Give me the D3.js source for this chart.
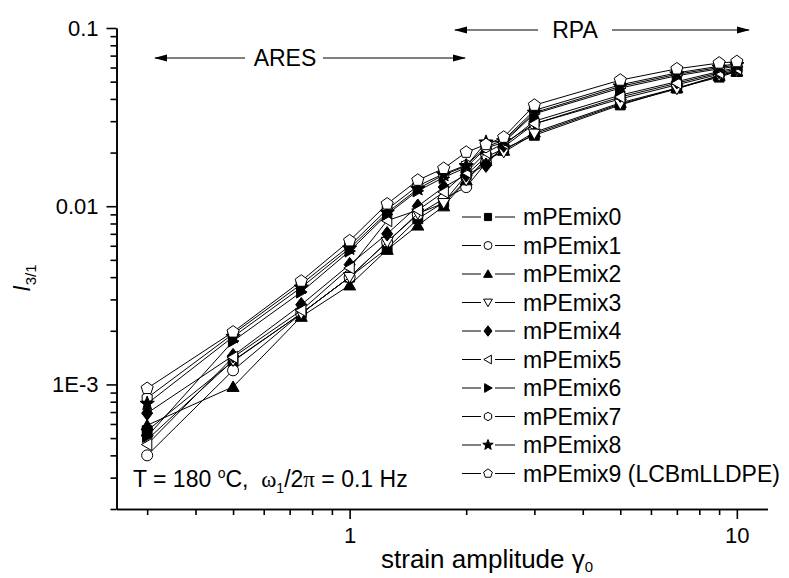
<!DOCTYPE html>
<html><head><meta charset="utf-8">
<script src="https://cdn.jsdelivr.net/npm/d3@7"></script>
<style>
body{margin:0;background:#fff}
svg{display:block}
text{font-family:"Liberation Sans",Arial,sans-serif;fill:#000;white-space:pre}
</style>
</head><body>
<svg id="c" width="789" height="578"></svg>
<script>
// ---------------- data ----------------
const strain = [0.3, 0.5, 0.75, 1, 1.25, 1.5, 1.75, 2, 2.25, 2.5, 3, 5, 7, 9, 10];
const seriesNames = ["mPEmix0","mPEmix1","mPEmix2","mPEmix3","mPEmix4","mPEmix5","mPEmix6","mPEmix7","mPEmix8","mPEmix9 (LCBmLLDPE)"];
const mix0 = [5.5e-4, 1.35e-3, 2.5e-3, 4.0e-3, 5.8e-3, 8.5e-3, 0.0105, 0.0150, 0.0189, 0.0210, 0.0250, 0.0370, 0.0460, 0.0530, 0.0570];
const mix1 = [4.0e-4, 1.20e-3, 2.5e-3, 4.0e-3, 6.3e-3, 9.0e-3, 0.0110, 0.0128, 0.0175, 0.0215, 0.0290, 0.0400, 0.0480, 0.0550, 0.0580];
const mix2 = [5.9e-4, 9.7e-4, 2.4e-3, 3.6e-3, 5.7e-3, 7.8e-3, 0.0100, 0.0140, 0.0180, 0.0205, 0.0260, 0.0380, 0.0460, 0.0540, 0.0570];
const mix3 = [4.9e-4, 1.36e-3, 2.5e-3, 4.0e-3, 6.3e-3, 9.1e-3, 0.0104, 0.0140, 0.0185, 0.0201, 0.0255, 0.0375, 0.0455, 0.0540, 0.0575];
const mix4 = [6.9e-4, 1.45e-3, 2.8e-3, 4.7e-3, 7.0e-3, 0.0100, 0.0128, 0.0150, 0.0170, 0.0220, 0.0300, 0.0420, 0.0500, 0.0570, 0.0600];
const mix5 = [4.6e-4, 1.42e-3, 2.6e-3, 4.5e-3, 8.3e-3, 9.5e-3, 0.0120, 0.0155, 0.0200, 0.0225, 0.0290, 0.0410, 0.0490, 0.0560, 0.0590];
const mix6 = [5.1e-4, 1.75e-3, 3.3e-3, 5.6e-3, 9.0e-3, 0.0122, 0.0145, 0.0165, 0.0212, 0.0228, 0.0330, 0.0460, 0.0540, 0.0590, 0.0610];
const mix7 = [8.4e-4, 1.92e-3, 3.65e-3, 6.0e-3, 9.6e-3, 0.0130, 0.0152, 0.0170, 0.0215, 0.0235, 0.0345, 0.0480, 0.0560, 0.0610, 0.0630];
const mix8 = [7.8e-4, 1.85e-3, 3.5e-3, 5.8e-3, 9.2e-3, 0.0125, 0.0150, 0.0168, 0.0228, 0.0232, 0.0335, 0.0470, 0.0550, 0.0600, 0.0620];
const mix9 = [9.5e-4, 1.97e-3, 3.8e-3, 6.4e-3, 0.0103, 0.0140, 0.0163, 0.0201, 0.0222, 0.0244, 0.0369, 0.0510, 0.0590, 0.0636, 0.0648];
const seriesValues = [mix0, mix1, mix2, mix3, mix4, mix5, mix6, mix7, mix8, mix9];
const markerTypes = ["square","circle","triUp","triDown","diamond","triLeft","triRight","hexagon","star","pentagon"];
const markerFilled = [true,false,true,false,true,false,true,false,true,false];

const xMajorTicks = [1, 10];
const xTickLabels = ["1", "10"];
const xMinorTicks = [0.3,0.4,0.5,0.6,0.7,0.8,0.9,2,3,4,5,6,7,8,9];
const yMajorTicks = [0.001, 0.01, 0.1];
const yTickLabels = ["1E-3", "0.01", "0.1"];
const yMinorTicks = [2e-4,3e-4,4e-4,5e-4,6e-4,7e-4,8e-4,9e-4,2e-3,3e-3,4e-3,5e-3,6e-3,7e-3,8e-3,9e-3,0.02,0.03,0.04,0.05,0.06,0.07,0.08,0.09];

// ---------------- layout ----------------
const svg = d3.select("#c");
const x = d3.scaleLog().domain([0.25, 12]).range([116.5, 767.5]);
const y = d3.scaleLog().domain([2e-4, 0.1]).range([509, 28]);
const FS = 22;

function shapePath(type, r) {
  const poly = pts => "M" + pts.map(p => p[0].toFixed(2) + "," + p[1].toFixed(2)).join("L") + "Z";
  const reg = (n, rad, rot) => d3.range(n).map(i => {
    const a = rot + i * 2 * Math.PI / n;
    return [rad * Math.cos(a), rad * Math.sin(a)];
  });
  switch (type) {
    case "square": { const s = r * 0.85; return poly([[-s,-s],[s,-s],[s,s],[-s,s]]); }
    case "circle": return d3.arc()({innerRadius:0, outerRadius:r*0.95, startAngle:0, endAngle:2*Math.PI});
    case "triUp": return poly(reg(3, r*1.2, -Math.PI/2).map(p=>[p[0], p[1]+r*0.2]));
    case "triDown": return poly(reg(3, r*1.2, Math.PI/2).map(p=>[p[0], p[1]-r*0.2]));
    case "triLeft": return poly(reg(3, r*1.2, Math.PI).map(p=>[p[0]+r*0.2, p[1]]));
    case "triRight": return poly(reg(3, r*1.2, 0).map(p=>[p[0]-r*0.2, p[1]]));
    case "diamond": return poly([[0,-r*1.25],[r*0.95,0],[0,r*1.25],[-r*0.95,0]]);
    case "hexagon": return poly(reg(6, r*1.0, -Math.PI/2));
    case "pentagon": return poly(reg(5, r*1.1, -Math.PI/2));
    case "star": {
      const pts = d3.range(10).map(i => {
        const a = -Math.PI/2 + i * Math.PI / 5;
        const rad = i % 2 === 0 ? r*1.3 : r*0.55;
        return [rad*Math.cos(a), rad*Math.sin(a)];
      });
      return poly(pts);
    }
  }
}

// ---------------- axes ----------------
const gx = svg.append("g").attr("transform", "translate(0,509)");
gx.call(d3.axisBottom(x).tickValues(xMinorTicks).tickSize(6).tickSizeOuter(0).tickFormat(""));
gx.append("g").call(d3.axisBottom(x).tickValues(xMajorTicks).tickSize(10).tickSizeOuter(0)
   .tickPadding(8).tickFormat((d,i)=>xTickLabels[i]));
gx.selectAll("path.domain").attr("stroke","#000").attr("stroke-width",1.6);
gx.selectAll("line").attr("stroke","#000").attr("stroke-width",1.6);
gx.selectAll("text").style("font-size", FS+"px").style("font-family","Liberation Sans, Arial, sans-serif").attr("fill","#000");

const gy = svg.append("g").attr("transform", "translate(116.5,0)");
gy.call(d3.axisLeft(y).tickValues(yMinorTicks).tickSize(6).tickSizeOuter(0).tickFormat(""));
gy.append("g").call(d3.axisLeft(y).tickValues(yMajorTicks).tickSize(10).tickSizeOuter(0)
   .tickPadding(8).tickFormat((d,i)=>yTickLabels[i]));
gy.selectAll("path.domain").attr("stroke","#000").attr("stroke-width",1.6);
gy.selectAll("line").attr("stroke","#000").attr("stroke-width",1.6);
gy.selectAll("text").style("font-size", FS+"px").style("font-family","Liberation Sans, Arial, sans-serif").attr("fill","#000");

// axis titles
const xt = svg.append("text").attr("x", 381).attr("y", 568).style("font-size","26px");
xt.append("tspan").text("strain amplitude ");
xt.append("tspan").text("γ");
xt.append("tspan").attr("dy", 4).style("font-size","15px").text("0");

const yt = svg.append("text").attr("transform", "translate(30,278) rotate(-90)")
  .attr("text-anchor","middle");
yt.append("tspan").style("font-size","23px").style("font-style","italic").text("I");
yt.append("tspan").attr("dy", 6).style("font-size","15px").text("3/1");

// ---------------- series ----------------
const line = d3.line().x(d => x(d[0])).y(d => y(d[1]));
const plot = svg.append("g");
seriesValues.forEach((vals, k) => {
  const pts = strain.map((s, i) => [s, vals[i]]);
  plot.append("path").attr("d", line(pts)).attr("fill","none").attr("stroke","#000").attr("stroke-width",1);
  plot.selectAll(null).data(pts).enter().append("path")
    .attr("transform", d => `translate(${x(d[0])},${y(d[1])})`)
    .attr("d", shapePath(markerTypes[k], 5.8))
    .attr("fill", markerFilled[k] ? "#000" : "#fff")
    .attr("stroke","#000").attr("stroke-width",1);
});

// ---------------- legend ----------------
const lg = svg.append("g");
seriesNames.forEach((name, k) => {
  const cy = 217 + k * 28.5;
  lg.append("line").attr("x1",462).attr("x2",481).attr("y1",cy).attr("y2",cy).attr("stroke","#000").attr("stroke-width",1);
  lg.append("line").attr("x1",495).attr("x2",515).attr("y1",cy).attr("y2",cy).attr("stroke","#000").attr("stroke-width",1);
  lg.append("path").attr("transform",`translate(488,${cy})`).attr("d", shapePath(markerTypes[k], 4.2))
    .attr("fill", markerFilled[k] ? "#000" : "#fff").attr("stroke","#000").attr("stroke-width",1);
  lg.append("text").attr("x",523).attr("y",cy).attr("dy","0.36em").style("font-size","23px").text(name);
});

// ---------------- annotations ----------------
function arrowLine(x1, x2, yy) {
  svg.append("line").attr("x1",x1).attr("x2",x2).attr("y1",yy).attr("y2",yy).attr("stroke","#000").attr("stroke-width",1.2);
}
function arrowHead(xt, yy, dir) {
  const L = 13, H = 3.5;
  svg.append("path").attr("d", `M${xt},${yy}L${xt - dir*L},${yy-H}L${xt - dir*L},${yy+H}Z`).attr("fill","#000");
}
// ARES
arrowLine(155, 245, 58); arrowHead(154, 58, -1);
arrowLine(323, 465, 58); arrowHead(466, 58, 1);
svg.append("text").attr("x",285).attr("y",58).attr("dy","0.36em").attr("text-anchor","middle").style("font-size","23px").text("ARES");
// RPA
arrowLine(455, 538, 30); arrowHead(454, 30, -1);
arrowLine(612, 749, 30); arrowHead(750, 30, 1);
svg.append("text").attr("x",575).attr("y",30).attr("dy","0.36em").attr("text-anchor","middle").style("font-size","23px").text("RPA");

// conditions text
const ct = svg.append("text").attr("x",133).attr("y",487).style("font-size","23px");
ct.append("tspan").text("T = 180 ");
ct.append("tspan").attr("dy",-9).style("font-size","14px").text("o");
ct.append("tspan").attr("dy",9).text("C,  ");
ct.append("tspan").style("font-family","Liberation Serif, Times New Roman, serif").text("ω");
ct.append("tspan").attr("dy",6).style("font-size","14px").text("1");
ct.append("tspan").attr("dy",-6).text("/2");
ct.append("tspan").style("font-family","Liberation Serif, Times New Roman, serif").text("π");
ct.append("tspan").text(" = 0.1 Hz");
</script>
</body></html>
